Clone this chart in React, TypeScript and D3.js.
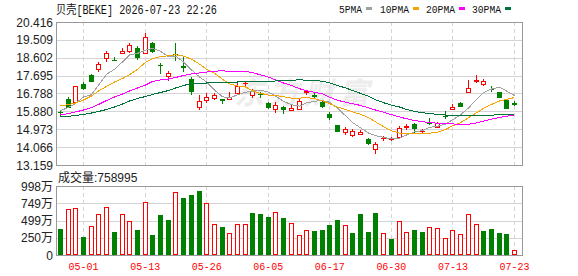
import * as d3 from "d3";

const dates = [
  "04-28", "04-29", "04-30", "05-01", "05-04", "05-05", "05-06", "05-07", "05-08", "05-11",
  "05-12", "05-13", "05-14", "05-15", "05-18", "05-19", "05-20", "05-21", "05-22", "05-26",
  "05-27", "05-28", "05-29", "06-01", "06-02", "06-03", "06-04", "06-05", "06-08", "06-09",
  "06-10", "06-11", "06-12", "06-15", "06-16", "06-17", "06-18", "06-22", "06-23", "06-24",
  "06-25", "06-26", "06-29", "06-30", "07-01", "07-02", "07-06", "07-07", "07-08", "07-09",
  "07-10", "07-13", "07-14", "07-15", "07-16", "07-17", "07-20", "07-21", "07-22", "07-23",
];

const open = [
  15.86, 16.51, 16.37, 17.25, 17.73, 18.02, 18.57, 18.5, 18.86, 18.94,
  19.08, 18.86, 19.35, 18.24, 17.68, 18.8, 18.17, 17.52, 16.09, 16.46,
  16.54, 16.49, 16.52, 16.83, 17.3, 16.71, 16.78, 16.29, 15.99, 16.09,
  15.94, 16.02, 16.86, 16.71, 16.34, 15.74, 15.19, 14.85, 14.67, 14.72,
  14.49, 13.96, 14.52, 14.47, 14.6, 15.1, 15.23, 14.86, 15.33, 15.1,
  15.67, 16.02, 16.29, 16.88, 17.42, 17.27, 17.03, 16.85, 16.46, 16.3,
];
const high = [
  15.93, 16.63, 17.19, 17.39, 17.78, 18.37, 18.96, 18.66, 19.11, 19.37,
  19.2, 19.87, 19.38, 18.32, 17.95, 19.37, 18.69, 17.61, 16.71, 16.8,
  16.8, 16.52, 16.86, 17.31, 17.44, 17.03, 16.88, 16.34, 16.34, 16.15,
  16.24, 16.49, 16.98, 16.8, 16.41, 15.86, 15.21, 15.1, 14.97, 14.94,
  14.54, 14.34, 14.65, 14.6, 15.15, 15.24, 15.27, 14.97, 15.56, 15.33,
  15.9, 16.27, 16.36, 17.47, 17.73, 17.51, 17.17, 16.88, 16.49, 16.41,
];
const low = [
  15.67, 16.08, 16.33, 17.0, 17.4, 17.95, 18.42, 18.47, 18.85, 18.91,
  18.52, 18.83, 18.9, 17.85, 17.47, 18.51, 17.93, 16.76, 15.99, 16.37,
  16.49, 16.32, 16.52, 16.76, 17.17, 16.63, 16.6, 16.04, 15.86, 15.78,
  15.93, 15.99, 16.76, 16.54, 16.11, 15.49, 14.88, 14.73, 14.65, 14.72,
  14.22, 13.78, 14.43, 14.41, 14.57, 14.97, 14.82, 14.77, 15.24, 15.1,
  15.56, 16.02, 16.14, 16.86, 17.39, 17.21, 16.91, 16.62, 16.07, 16.2,
];
const close = [
  15.84, 16.1, 17.17, 17.08, 17.44, 18.27, 18.83, 18.48, 18.94, 19.23,
  18.63, 19.64, 18.93, 18.23, 17.84, 18.79, 18.15, 16.91, 16.42, 16.63,
  16.7, 16.46, 16.61, 17.18, 17.32, 16.93, 16.76, 16.09, 16.19, 16.01,
  16.03, 16.42, 16.89, 16.64, 16.17, 15.6, 14.9, 14.99, 14.9, 14.83,
  14.29, 14.24, 14.54, 14.49, 15.02, 15.12, 15.02, 14.88, 15.29, 15.31,
  15.65, 16.12, 16.14, 17.05, 17.46, 17.42, 17.01, 16.63, 16.07, 16.28,
];
// 成交量, 万股
const volume = [
  376, 660, 675, 260, 415, 593, 689, 333, 593, 487,
  361, 762, 289, 578, 506, 906, 824, 868, 925, 747,
  448, 405, 318, 448, 448, 607, 593, 549, 617, 535,
  463, 284, 357, 347, 362, 434, 506, 429, 318, 593,
  333, 607, 313, 231, 487, 328, 362, 333, 400, 386,
  241, 362, 304, 593, 448, 347, 376, 318, 304, 75.9,
];
const prevClose0 = 15.95;

// MA values before the window is filled (history is off chart)
const ma5Head = [15.925, 16.077, 16.28, 16.61];
const ma10Head = [16.153, 16.23, 16.305, 16.458, 16.66, 16.914, 17.143, 17.37, 17.549];
const ma20Head = [
  15.696, 15.772, 15.849, 15.95, 16.077, 16.229, 16.432, 16.61, 16.762, 16.914,
  17.067, 17.219, 17.396, 17.473, 17.523, 17.599, 17.701, 17.777, 17.828,
];
const ma30Head = [
  15.62, 15.63, 15.671, 15.722, 15.798, 15.874, 15.975, 16.102, 16.255, 16.407,
  16.534, 16.635, 16.737, 16.838, 16.94, 17.067, 17.193, 17.295, 17.32, 17.32,
  17.336, 17.346, 17.356, 17.371, 17.381, 17.391, 17.402, 17.412, 17.422,
];

const priceTicks = [13.159, 14.066, 14.973, 15.88, 16.788, 17.695, 18.602, 19.509, 20.416];
const volTicks = [0, 249.5, 499, 748.5, 998];
const volTickLabels = ["0", "250万", "499万", "749万", "998万"];
const tickDates = ["05-01", "05-13", "05-26", "06-05", "06-17", "06-30", "07-13", "07-23"];

const maNames = ["5PMA", "10PMA", "20PMA", "30PMA"];
const maColors = ["#a0a0a0", "#f5a300", "#ff00ff", "#00723a"];

const RED = "#ff0000";
const GREEN = "#008000";
const GRID = "#d4d4d4";
const BORDER = "#999999";

const L = 56, R = 522;
const PT = 22, PB = 165;
const VT = 186, VB = 255;

function movingAvg(n: number, head: number[]) {
  return close.map((_, i) =>
    i < n - 1 ? head[i] : (d3.mean(close.slice(i - n + 1, i + 1)) as number)
  );
}

export default function App() {
  const x = d3.scalePoint<string>().domain(dates).range([60, 514]);
  const y = d3.scaleLinear().domain([13.159, 20.416]).range([PB, PT]);
  const yv = d3.scaleLinear().domain([0, 998]).range([VB, VT]);

  const cx = (i: number) => Math.round(x(dates[i]) as number);

  const mas = [
    movingAvg(5, ma5Head),
    movingAvg(10, ma10Head),
    movingAvg(20, ma20Head),
    movingAvg(30, ma30Head),
  ];
  const line = d3
    .line<number>()
    .x((_, i) => cx(i) + 0.5)
    .y((d) => y(d));

  const sans = "'Liberation Sans', 'Noto Sans CJK SC', sans-serif";
  const mono = "'Liberation Mono', 'Noto Sans CJK SC', monospace";

  const legendX = [339, 380, 426, 472];
  const legendW = [23, 29, 29, 29];

  return (
    <svg
      width={578}
      height={276}
      style={{ position: "absolute", left: 0, top: 0, background: "#fff" }}
    >
      <rect width={578} height={276} fill="#fff" />

      {/* header */}
      <text x={56} y={14} fontFamily={mono} fontSize={12} fill="#111"
        textLength={161} lengthAdjust="spacingAndGlyphs">
        贝壳[BEKE] 2026-07-23 22:26
      </text>
      {maNames.map((n, k) => (
        <g key={n}>
          <text x={legendX[k]} y={13} fontFamily={mono} fontSize={11} fill="#111"
            textLength={legendW[k]} lengthAdjust="spacingAndGlyphs">
            {n}
          </text>
          <rect x={legendX[k] + legendW[k] + 4} y={7} width={6} height={3} fill={maColors[k]} />
        </g>
      ))}

      {/* watermark */}
      <text x={234} y={104} fontFamily="'Noto Sans CJK SC'" fontWeight="bold" fontSize={30}
        letterSpacing={5} fill="#ededed" fontStyle="italic">
        东方财富
      </text>

      {/* price grid */}
      {priceTicks.slice(1, -1).map((t) => (
        <line key={t} x1={L} x2={R} y1={Math.round(y(t)) + 0.5} y2={Math.round(y(t)) + 0.5}
          stroke={GRID} />
      ))}
      {tickDates.map((d) => {
        const px = Math.round(x(d) as number) + 0.5;
        return (
          <g key={d}>
            <line x1={px} x2={px} y1={PT} y2={PB} stroke={GRID} strokeDasharray="4,3" />
            <line x1={px} x2={px} y1={VT} y2={VB} stroke={GRID} strokeDasharray="4,3" />
          </g>
        );
      })}
      {volTicks.slice(1, -1).map((t) => (
        <line key={t} x1={L} x2={R} y1={Math.round(yv(t)) + 0.5} y2={Math.round(yv(t)) + 0.5}
          stroke={GRID} />
      ))}

      {/* candles */}
      {close.map((c, i) => {
        const o = open[i];
        const up = c >= o;
        const col = up ? RED : GREEN;
        const px = cx(i);
        const top = Math.round(y(Math.max(o, c)));
        const bot = Math.round(y(Math.min(o, c)));
        const h = bot - top;
        return (
          <g key={i}>
            <line x1={px + 0.5} x2={px + 0.5} y1={Math.round(y(high[i]))} y2={Math.round(y(low[i])) + 1}
              stroke={col} />
            {h < 1 ? (
              <line x1={px - 2} x2={px + 3} y1={top + 0.5} y2={top + 0.5} stroke={col} />
            ) : up ? (
              <rect x={px - 1.5} y={top + 0.5} width={4} height={h} fill="#fff" stroke={col} />
            ) : (
              <rect x={px - 2} y={top} width={5} height={h + 1} fill={col} />
            )}
          </g>
        );
      })}

      {/* moving averages */}
      {mas.map((m, k) => (
        <path key={k} d={line(m) || ""} fill="none" stroke={maColors[k]} strokeWidth={1}
          shapeRendering="crispEdges" />
      ))}

      {/* volume bars */}
      {volume.map((v, i) => {
        const prev = i === 0 ? prevClose0 : close[i - 1];
        const up = close[i] > prev;
        const px = cx(i);
        const top = Math.round(yv(v));
        return up ? (
          <rect key={i} x={px - 1.5} y={top + 0.5} width={4} height={VB - top - 1} fill="#fff"
            stroke={RED} />
        ) : (
          <rect key={i} x={px - 2} y={top} width={5} height={VB - top} fill={GREEN} />
        );
      })}

      {/* frames */}
      <rect x={L + 0.5} y={PT + 0.5} width={R - L} height={PB - PT} fill="none" stroke={BORDER} />
      <rect x={L + 0.5} y={VT + 0.5} width={R - L} height={VB - VT} fill="none" stroke={BORDER} />

      {/* axis labels */}
      {priceTicks.map((t) => (
        <text key={t} x={53} y={y(t) + 4.5} textAnchor="end" fontFamily={sans} fontSize={12}
          fill="#222">
          {t.toFixed(3)}
        </text>
      ))}
      <text x={58} y={182} fontFamily={sans} fontSize={12} fill="#222">
        成交量:758995
      </text>
      {volTicks.map((t, k) => (
        <text key={t} x={53} y={yv(t) + 4.5} textAnchor="end" fontFamily={sans} fontSize={12}
          fill="#222">
          {volTickLabels[k]}
        </text>
      ))}
      {tickDates.map((d) => (
        <text key={d} x={(x(d) as number) + 0.5} y={270} textAnchor="middle" fontFamily={mono}
          fontSize={11} fill={RED} textLength={30} lengthAdjust="spacingAndGlyphs">
          {d}
        </text>
      ))}
    </svg>
  );
}
